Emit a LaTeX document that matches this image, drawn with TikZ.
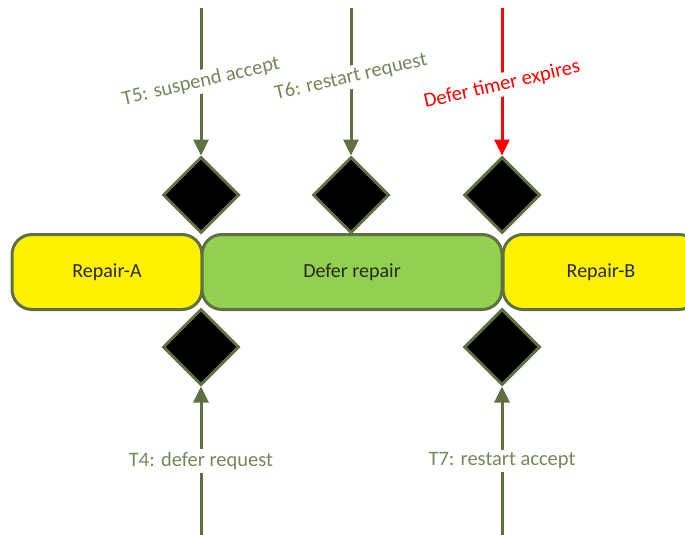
\documentclass[tikz,border=0pt]{standalone}
\usepackage{fontspec}
\setmainfont{Carlito}
\usetikzlibrary{shapes.geometric,arrows.meta}
\definecolor{linegreen}{RGB}{96,112,66}
\definecolor{labelgreen}{RGB}{118,136,88}
\definecolor{defergreen}{RGB}{146,208,80}
\definecolor{boxtext}{RGB}{40,40,30}

\begin{document}
\begin{tikzpicture}[x=1pt,y=-1pt,
    state/.style ={rectangle, rounded corners=20pt, draw=linegreen, line width=3pt, minimum height=75pt, text=boxtext, font=\fontsize{20}{24}\selectfont},
    gate/.style ={diamond, draw=linegreen, fill=black, line width=3pt, minimum width=76pt, minimum height=76pt, inner sep=0pt},
    flow/.style ={draw=linegreen, line width=3pt, -{Triangle[length=16pt,width=15pt]}},
    event/.style ={fill=white, text=labelgreen, inner sep=3pt, font=\fontsize{20.5}{24}\selectfont}]
   \useasboundingbox (0,0) rectangle (685,535);
   \node[state, fill=yellow, minimum width=190pt] (repairA) at (107,272)  {Repair-A};
   \node[state, fill=defergreen, minimum width=300pt] (defer) at (352,272)  {Defer repair};
   \node[state, fill=yellow, minimum width=196pt] (repairB) at (601,272)  {Repair-B};
   % gates above and below the states
   \node[gate] (gT5) at (201,195)  {};
   \node[gate] (gT6) at (351,195)  {};
   \node[gate] (gTimer) at (502,195)  {};
   \node[gate] (gT4) at (201,347)  {};
   \node[gate] (gT7) at (502,347)  {};
   \coordinate (inT5) at (201,8);
   \coordinate (inT6) at (351,8);
   \coordinate (inTimer) at (502,8);
   \coordinate (inT4) at (201,535);
   \coordinate (inT7) at (502,535);
   \draw[flow] (inT5) to node[event, rotate=13] {T5: suspend accept} (gT5);
   \draw[flow] (inT6) to node[event, rotate=13, pos=0.47] {T6: restart request} (gT6);
   \draw[flow, draw=red] (inTimer) to node[event, rotate=13, text=red, pos=0.52] {Defer timer expires} (gTimer);
   \draw[flow] (inT4) to node[event] {T4: defer request} (gT4);
   \draw[flow] (inT7) to node[event] {T7: restart accept} (gT7);
 \end{tikzpicture}
\end{document}
